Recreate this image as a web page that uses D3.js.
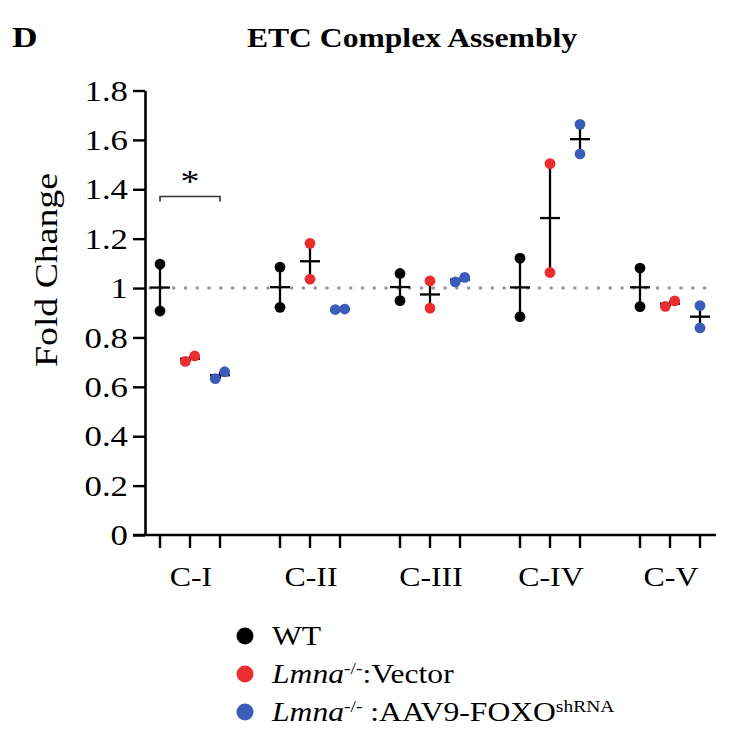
<!DOCTYPE html>
<html lang="en">
<head>
<meta charset="utf-8">
<title>ETC Complex Assembly</title>
<script src="https://cdn.jsdelivr.net/npm/d3@7"></script>
<style>
  body { margin: 0; background: #fff; }
  svg text { font-family: "Liberation Serif", "Times New Roman", serif; fill: #000; }
</style>
</head>
<body>
<svg id="chart" width="730" height="738"></svg>
<script>
// data
var categories = ["C-I", "C-II", "C-III", "C-IV", "C-V"];
var groups = ["WT", "Vector", "FOXO"];
var wtValues     = [[1.097, 0.907], [1.085, 0.922], [1.059, 0.949], [1.121, 0.884], [1.081, 0.925]];
var vectorValues = [[0.703, 0.725], [1.181, 1.036], [1.029, 0.919], [1.504, 1.063], [0.926, 0.948]];
var foxoValues   = [[0.633, 0.661], [0.913, 0.915], [1.025, 1.043], [1.663, 1.543], [0.929, 0.839]];
var yTicks = [0, 0.2, 0.4, 0.6, 0.8, 1, 1.2, 1.4, 1.6, 1.8];
var colors = ["#000000", "#ec2d2f", "#3b5cb8"];

var S = 1.18; // horizontal stretch of the lettering in the original
var svg = d3.select("#chart");

var y = d3.scaleLinear().domain([0, 1.8]).range([535, 90.5]);
var xBand = d3.scaleBand().domain(categories).range([130, 730]);
var xSub = d3.scalePoint().domain(groups).range([-30, 30]);
function cx(cat, g) { return xBand(cat) + xBand.bandwidth() / 2 + xSub(g); }

function stretchText(sel, x, yy) {
  return sel.attr("transform", "translate(" + x + "," + yy + ") scale(" + S + ",1)");
}

// panel letter + title
stretchText(svg.append("text"), 12, 47)
  .attr("font-size", 30).attr("font-weight", "bold").text("D");
stretchText(svg.append("text"), 412, 46.5)
  .attr("font-size", 26.8).attr("font-weight", "bold").attr("text-anchor", "middle")
  .text("ETC Complex Assembly");

// y axis
var yAxis = d3.axisLeft(y).tickValues(yTicks).tickSize(12).tickSizeOuter(0)
  .tickFormat(d3.format("~g"));
var gy = svg.append("g").attr("transform", "translate(145,0)").call(yAxis);
gy.select(".domain").attr("stroke-width", 2.6);
gy.selectAll(".tick line").attr("stroke-width", 2.4);
gy.selectAll(".tick text")
  .attr("font-family", "Liberation Serif").attr("font-size", 28.5)
  .attr("x", 0).attr("dy", "0.34em")
  .attr("transform", "translate(-17,0) scale(1.22,1)");

svg.append("text")
  .attr("transform", "translate(57,270) rotate(-90) scale(" + S + ",1)")
  .attr("font-size", 32).attr("text-anchor", "middle").text("Fold Change");

// x axis
svg.append("line").attr("x1", 133).attr("x2", 716).attr("y1", y(0)).attr("y2", y(0))
  .attr("stroke", "#000").attr("stroke-width", 2.6);
var tickData = [];
categories.forEach(function (c) { groups.forEach(function (g) { tickData.push(cx(c, g)); }); });
svg.selectAll(".xtick").data(tickData).enter().append("line")
  .attr("class", "xtick")
  .attr("x1", function (d) { return d; }).attr("x2", function (d) { return d; })
  .attr("y1", y(0)).attr("y2", y(0) + 13)
  .attr("stroke", "#000").attr("stroke-width", 2.4);
categories.forEach(function (c) {
  stretchText(svg.append("text"), cx(c, "Vector") + 1, 586)
    .attr("font-size", 27).attr("text-anchor", "middle").text(c);
});

// reference line at 1
svg.append("line").attr("x1", 150).attr("x2", 714).attr("y1", y(1)).attr("y2", y(1))
  .attr("stroke", "#9a9a9a").attr("stroke-width", 3.6)
  .attr("stroke-linecap", "round").attr("stroke-dasharray", "0.1 11.7");

// points, mean and SEM
var series = [wtValues, vectorValues, foxoValues];
var r = 5.4;
series.forEach(function (vals, gi) {
  vals.forEach(function (pair, ci) {
    var cat = categories[ci], g = groups[gi];
    var x0 = cx(cat, g);
    var mean = d3.mean(pair);
    var sem = d3.deviation(pair) / Math.sqrt(pair.length);
    svg.append("line").attr("x1", x0).attr("x2", x0)
      .attr("y1", y(mean - sem)).attr("y2", y(mean + sem))
      .attr("stroke", "#000").attr("stroke-width", 2.3);
    svg.append("line").attr("x1", x0 - 10).attr("x2", x0 + 10)
      .attr("y1", y(mean)).attr("y2", y(mean))
      .attr("stroke", "#000").attr("stroke-width", 2.3);
    // spread points sideways when they would overlap
    var close = Math.abs(y(pair[0]) - y(pair[1])) < 2 * r;
    var order = pair.slice().sort(d3.ascending);
    svg.selectAll(null).data(order).enter().append("circle")
      .attr("cx", function (d, i) { return close ? x0 + (i === 0 ? -4.7 : 4.7) : x0; })
      .attr("cy", function (d) { return y(d); })
      .attr("r", r).attr("fill", colors[gi]);
  });
});

// significance bracket C-I WT vs FOXO
var bx1 = cx("C-I", "WT"), bx2 = cx("C-I", "FOXO"), by = 196.5;
svg.append("path")
  .attr("d", "M" + bx1 + "," + (by + 5) + "V" + by + "H" + bx2 + "V" + (by + 5))
  .attr("fill", "none").attr("stroke", "#333").attr("stroke-width", 1.6);
stretchText(svg.append("text"), (bx1 + bx2) / 2, 192)
  .attr("font-size", 32).attr("text-anchor", "middle").text("*");

// legend
var legendRows = [
  [{ t: "WT" }],
  [{ t: "Lmna", i: true }, { t: "-/-", sup: true }, { t: ":Vector" }],
  [{ t: "Lmna", i: true }, { t: "-/-", sup: true }, { t: " :AAV9-FOXO" }, { t: "shRNA", sup: true }]
];
legendRows.forEach(function (row, ri) {
  var ly = 636 + ri * 38;
  svg.append("circle").attr("cx", 245).attr("cy", ly).attr("r", 8.5).attr("fill", colors[ri]);
  var t = stretchText(svg.append("text"), 272, ly + 9).attr("font-size", 26.8);
  row.forEach(function (p) {
    var ts = t.append("tspan").text(p.t);
    if (p.i) ts.attr("font-style", "italic");
    if (p.sup) ts.attr("font-size", 16.5).attr("baseline-shift", "super");
  });
});
</script>
</body>
</html>
